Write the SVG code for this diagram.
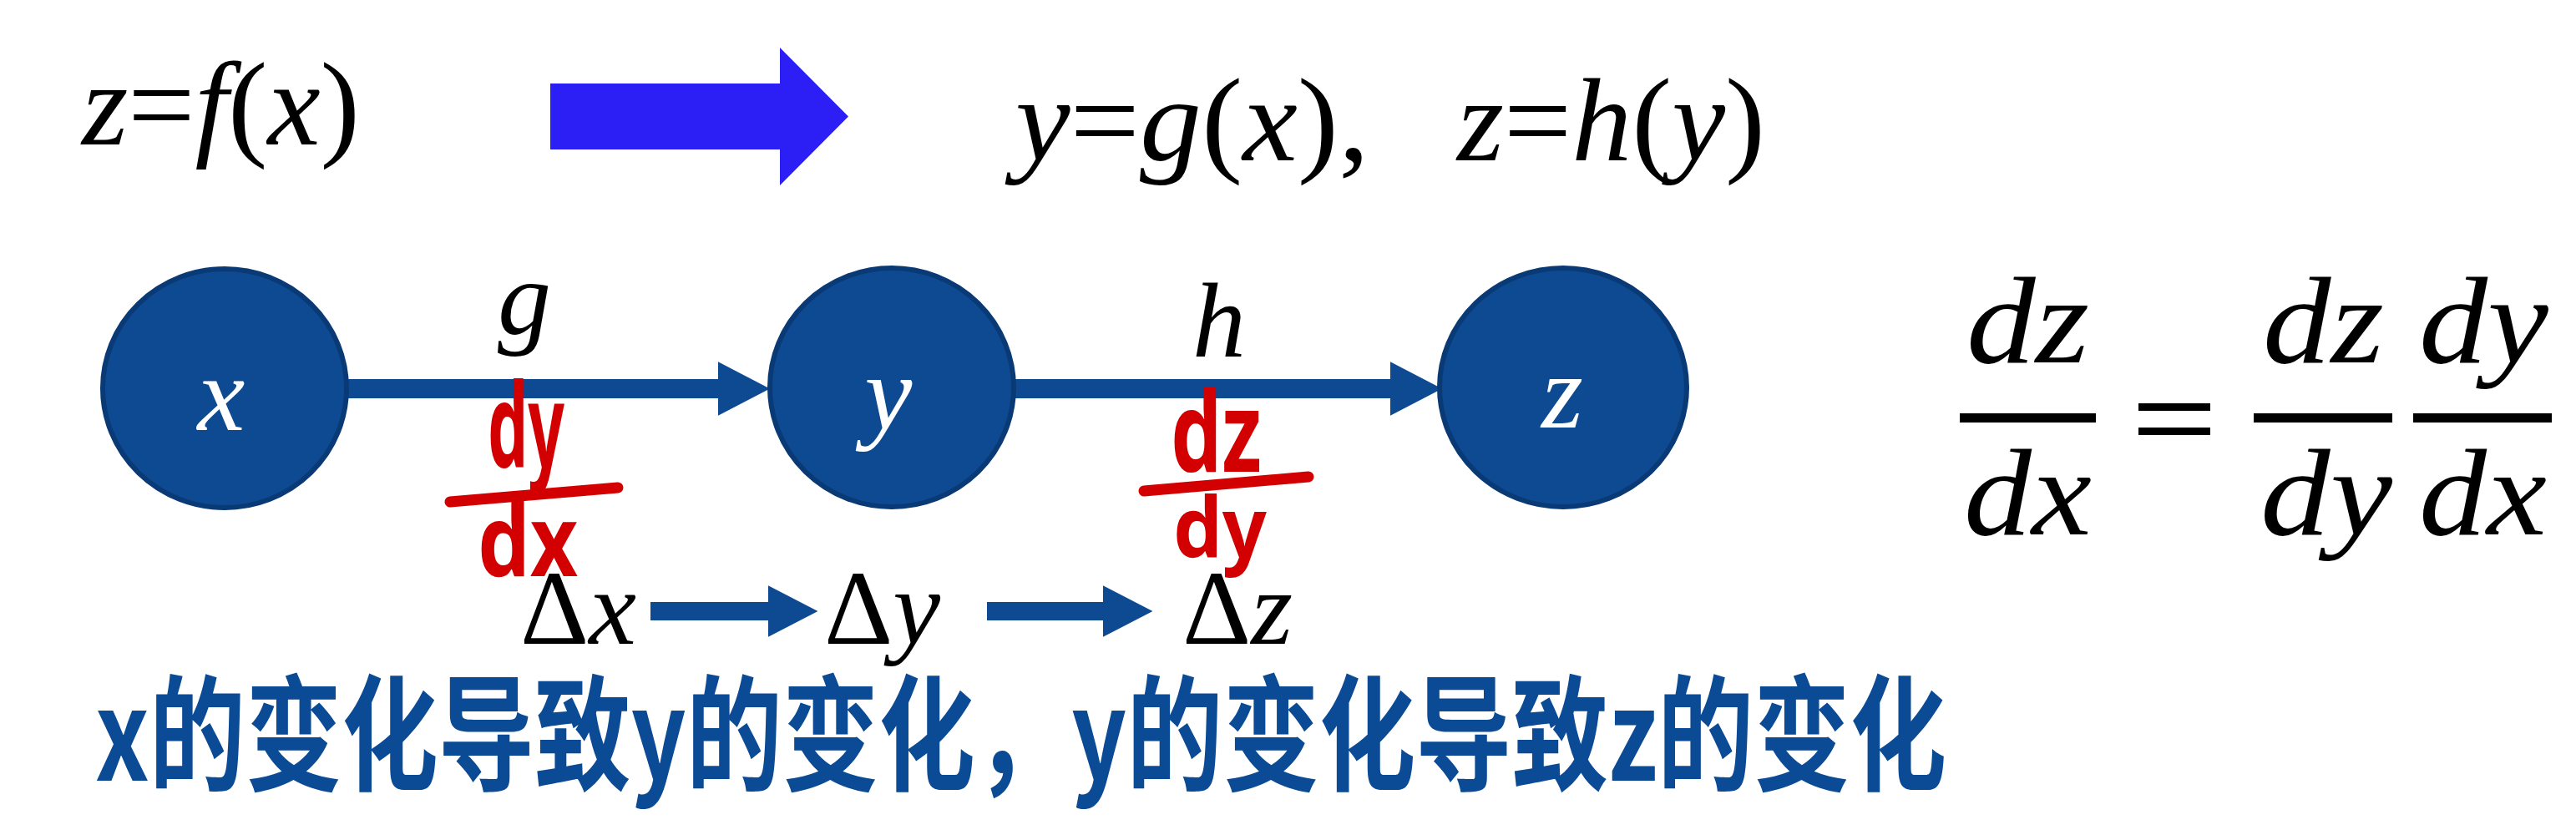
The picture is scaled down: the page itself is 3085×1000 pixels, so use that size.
<svg xmlns="http://www.w3.org/2000/svg" width="3085" height="1000" viewBox="0 0 3085 1000">
<style>
.math{font-family:"Liberation Serif","Times New Roman",serif;fill:#000}
.it{font-style:italic}
.node{fill:#0E4A92;stroke:#0A3A75;stroke-width:6}
.nlab{font-family:"Liberation Serif","Times New Roman",serif;font-style:italic;font-size:128px;fill:#fff;text-anchor:middle}
.elab{font-family:"Liberation Serif","Times New Roman",serif;font-style:italic;font-size:128px;fill:#000;text-anchor:middle}
.conn{stroke:#0E4A92;fill:none}
.red{font-family:"Noto Sans","DejaVu Sans",sans-serif;font-weight:bold;fill:#D20000}
.redbar{stroke:#D20000;stroke-width:13;stroke-linecap:round;fill:none}
.cm{font-family:"Liberation Serif","Times New Roman",serif;font-style:italic;font-size:148px;fill:#000}
.hand{font-family:"Noto Sans CJK SC","Noto Sans",sans-serif;font-weight:bold;fill:#0B4A94}
</style>
<defs>
<marker id="ah" markerWidth="2.7" markerHeight="2.8" refX="0" refY="1.4" orient="auto" markerUnits="strokeWidth">
<path d="M0,0 L2.7,1.4 L0,2.8 Z" fill="#0E4A92"/>
</marker>
</defs>
<rect width="3085" height="1000" fill="#fff"/>

<g id="formula-top">
<text class="math" x="98" y="173" font-size="142" textLength="333" lengthAdjust="spacingAndGlyphs"><tspan class="it">z</tspan>=<tspan class="it">f</tspan>(<tspan class="it">x</tspan>)</text>
<polygon points="659,100 934,100 934,57 1016,139.5 934,222 934,179 659,179" fill="#2B1FF5"/>
<text class="math" x="1216" y="192" font-size="142" textLength="424" lengthAdjust="spacingAndGlyphs"><tspan class="it">y</tspan>=<tspan class="it">g</tspan>(<tspan class="it">x</tspan>),</text>
<text class="math" x="1745" y="192" font-size="142" textLength="369" lengthAdjust="spacingAndGlyphs"><tspan class="it">z</tspan>=<tspan class="it">h</tspan>(<tspan class="it">y</tspan>)</text>
</g>

<g id="connectors">
<line class="conn" x1="415" y1="465.5" x2="860" y2="465.5" stroke-width="23" marker-end="url(#ah)"/>
<line class="conn" x1="1215" y1="465.5" x2="1665" y2="465.5" stroke-width="23" marker-end="url(#ah)"/>
<line class="conn" x1="779" y1="732" x2="920" y2="732" stroke-width="22" marker-end="url(#ah)"/>
<line class="conn" x1="1182" y1="732" x2="1321" y2="732" stroke-width="22" marker-end="url(#ah)"/>
</g>

<g id="node-x">
<ellipse class="node" cx="269" cy="465" rx="146" ry="143"/>
<text class="nlab" x="265" y="515">x</text>
</g>
<g id="node-y">
<ellipse class="node" cx="1068" cy="464" rx="146" ry="143"/>
<text class="nlab" x="1064" y="514">y</text>
</g>
<g id="node-z">
<ellipse class="node" cx="1872" cy="464" rx="148" ry="143"/>
<text class="nlab" x="1871" y="512">z</text>
</g>

<g id="edge-labels">
<text class="elab" x="628" y="400">g</text>
<text class="elab" x="1460" y="427">h</text>
</g>

<g id="red-notes">
<text class="red" x="584" y="560" font-size="140" textLength="92" lengthAdjust="spacingAndGlyphs">dy</text>
<path class="redbar" d="M539,601 L740,584"/>
<text class="red" x="572" y="690" font-size="118" textLength="120" lengthAdjust="spacingAndGlyphs">dx</text>
<text class="red" x="1402" y="565" font-size="132" textLength="109" lengthAdjust="spacingAndGlyphs">dz</text>
<path class="redbar" d="M1370,588 L1567,571"/>
<text class="red" x="1405" y="668" font-size="100" textLength="112" lengthAdjust="spacingAndGlyphs">dy</text>
</g>

<g id="delta-row">
<text class="math" x="623" y="771" font-size="128">Δ<tspan class="it">x</tspan></text>
<text class="math" x="987" y="771" font-size="128">Δ<tspan class="it">y</tspan></text>
<text class="math" x="1416" y="771" font-size="128">Δ<tspan class="it">z</tspan></text>
</g>

<g id="chain-rule">
<text class="cm" x="2355" y="434" textLength="147" lengthAdjust="spacingAndGlyphs">dz</text>
<rect x="2347" y="495" width="163" height="11"/>
<text class="cm" x="2352" y="640" textLength="153" lengthAdjust="spacingAndGlyphs">dx</text>
<rect x="2561" y="483" width="86" height="9"/>
<rect x="2561" y="512" width="86" height="9"/>
<text class="cm" x="2710" y="434" textLength="145" lengthAdjust="spacingAndGlyphs">dz</text>
<rect x="2699" y="495" width="166" height="11"/>
<text class="cm" x="2707" y="640" textLength="158" lengthAdjust="spacingAndGlyphs">dy</text>
<text class="cm" x="2897" y="434" textLength="155" lengthAdjust="spacingAndGlyphs">dy</text>
<rect x="2890" y="495" width="166" height="11"/>
<text class="cm" x="2897" y="640" textLength="153" lengthAdjust="spacingAndGlyphs">dx</text>
</g>

<g id="handwriting">
<text class="hand" x="114" y="935" font-size="150" textLength="2217" lengthAdjust="spacingAndGlyphs">x的变化导致y的变化，y的变化导致z的变化</text>
</g>
</svg>
